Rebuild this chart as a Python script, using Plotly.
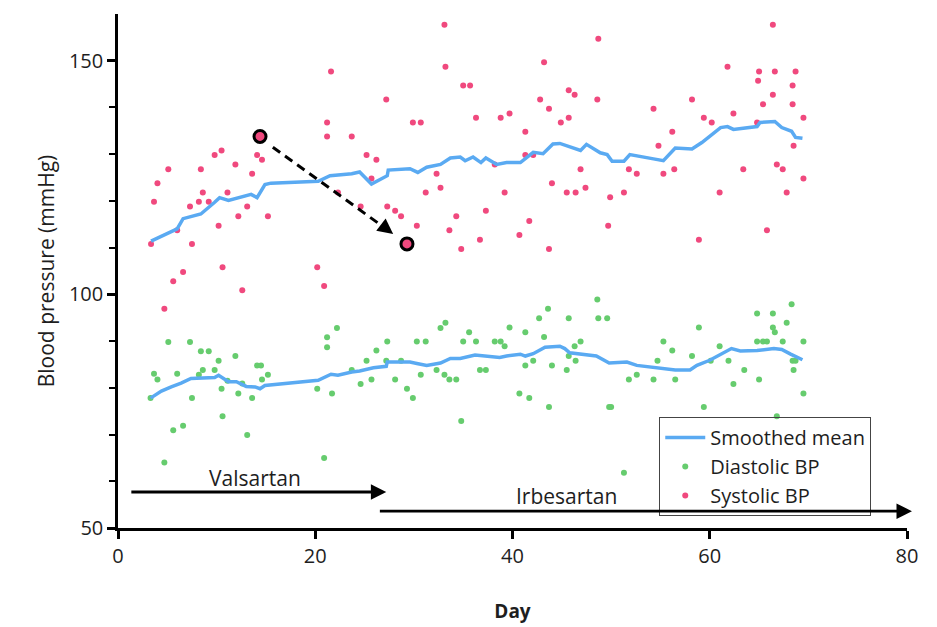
import plotly.graph_objects as go

# ---- data ----
sys_day = [21.6, 21.2, 21.2, 23.7, 25.2, 9.8, 10.5, 14.1, 14.6, 11.9, 5.1, 8.4, 13.6, 4.0, 8.6, 11.1, 22.3,
           3.65, 8.2, 9.2, 7.3, 13.1, 24.6, 12.2, 15.2, 10.2, 6.0, 3.35, 7.5, 10.6, 6.6, 5.6, 20.2, 20.9,
           12.6, 4.7, 33.1, 33.2, 48.7, 43.2, 35.0, 35.7, 27.2, 42.8, 45.7, 46.3, 48.6, 43.7, 29.9, 30.7,
           36.3, 38.8, 39.7, 44.9, 45.7, 41.3, 26.2, 41.3, 42.1, 38.2, 25.7, 32.3, 46.9, 32.7, 31.2, 39.2,
           44.0, 45.5, 46.4, 47.4, 49.9, 27.3, 28.1, 37.3, 28.7, 30.3, 29.3, 34.3, 33.6, 41.7, 36.7, 34.8,
           40.7, 43.7, 49.7, 66.4, 61.8, 65.0, 66.6, 68.7, 64.9, 68.4, 66.4, 58.2, 54.3, 65.4, 68.4, 62.4,
           59.4, 60.2, 69.5, 64.8, 56.2, 54.8, 68.5, 51.8, 52.6, 55.3, 56.4, 63.4, 66.8, 67.4, 69.5, 51.3,
           61.0, 67.8, 58.9, 65.8, 14.4]
sys_bp = [147.7, 136.8, 133.8, 133.8, 129.8, 129.8, 130.8, 129.8, 128.8, 127.8, 126.8, 126.8, 125.8, 123.8,
          121.8, 121.8, 121.8, 119.8, 119.8, 119.8, 118.8, 118.8, 118.8, 116.7, 116.7, 114.7, 113.7, 110.8,
          110.8, 105.8, 104.8, 102.8, 105.8, 101.8, 100.9, 96.9, 157.7, 148.7, 154.7, 149.7, 144.7, 144.7,
          141.7, 141.7, 143.7, 142.7, 141.7, 139.7, 136.8, 136.8, 137.8, 137.8, 138.7, 136.8, 137.8, 134.8,
          128.8, 129.8, 129.8, 127.8, 124.8, 125.8, 126.8, 122.8, 121.8, 121.8, 123.8, 121.8, 121.8, 122.8,
          120.8, 118.8, 117.9, 117.9, 116.7, 114.7, 110.8, 116.7, 113.7, 115.7, 111.7, 109.7, 112.7, 109.7,
          114.7, 157.7, 148.7, 147.7, 147.7, 147.7, 145.7, 144.7, 142.7, 141.7, 139.7, 140.7, 140.7, 138.7,
          137.8, 136.8, 137.8, 136.8, 134.8, 131.8, 131.8, 126.8, 125.8, 125.8, 126.8, 126.8, 127.8, 126.8,
          124.8, 121.8, 121.8, 121.8, 111.7, 113.7, 133.8]

dia_day = [5.1, 7.3, 8.4, 9.2, 22.2, 21.2, 21.2, 11.9, 10.2, 14.1, 14.5, 3.65, 4.0, 6.0, 8.6, 9.8, 8.2, 15.2,
           14.6, 23.7, 25.2, 24.6, 10.5, 12.2, 11.1, 12.6, 3.3, 7.5, 13.6, 20.2, 21.7, 10.6, 6.6, 5.6, 13.1,
           4.7, 20.9, 32.7, 33.2, 43.6, 48.6, 42.7, 45.7, 48.7, 49.6, 39.7, 35.6, 41.3, 43.2, 27.3, 30.3,
           31.2, 35.0, 36.3, 38.2, 38.8, 39.2, 46.3, 46.9, 26.2, 27.2, 28.7, 30.7, 32.3, 33.1, 33.6, 34.3,
           28.1, 25.7, 29.3, 29.9, 36.7, 37.3, 41.3, 42.1, 44.0, 45.5, 45.7, 46.4, 40.7, 41.7, 43.7, 34.8,
           49.8, 68.3, 64.8, 66.4, 58.9, 66.4, 66.6, 67.8, 55.3, 64.8, 65.4, 65.8, 67.4, 69.5, 56.2, 61.0,
           58.2, 54.7, 61.9, 60.1, 68.4, 68.7, 52.6, 51.8, 54.3, 56.5, 63.5, 68.5, 62.4, 65.0, 69.5, 50.0,
           59.4, 66.8, 51.3]
dia_bp = [89.8, 89.8, 87.8, 87.8, 92.8, 90.8, 88.7, 86.8, 85.8, 84.8, 84.8, 83.0, 81.8, 83.0, 83.8, 83.8, 82.8,
          82.8, 81.8, 83.8, 85.8, 80.8, 79.8, 78.8, 81.5, 80.9, 77.8, 77.8, 77.8, 79.8, 78.8, 73.9, 71.9, 70.9,
          69.9, 64.0, 65.0, 92.8, 93.9, 96.9, 98.9, 94.9, 94.9, 94.9, 94.9, 92.9, 91.9, 91.9, 90.9, 89.9, 89.9,
          89.9, 89.9, 89.9, 89.9, 89.9, 88.9, 88.9, 89.9, 88.0, 85.8, 85.8, 82.8, 83.8, 82.8, 81.8, 81.8, 81.8,
          81.8, 79.8, 77.8, 83.8, 83.8, 84.8, 85.8, 84.8, 83.8, 86.8, 85.8, 78.8, 77.8, 75.9, 72.9, 75.9, 97.9,
          95.9, 95.9, 92.9, 92.9, 91.9, 93.9, 89.9, 89.9, 89.9, 89.9, 89.9, 89.9, 88.0, 88.9, 86.8, 85.8, 85.8,
          85.8, 85.8, 85.8, 82.8, 81.8, 81.8, 81.8, 83.8, 83.8, 80.8, 81.8, 78.8, 75.9, 75.9, 73.9, 61.8]

sys_smooth_day = [3.35, 6.0, 6.6, 8.4, 9.8, 10.3, 11.2, 13.5, 14.1, 14.9, 15.5, 20.3, 21.5, 23.7, 24.5, 25.7,
                  27.3, 27.4, 29.6, 30.4, 31.3, 32.7, 33.7, 34.7, 35.2, 36.0, 36.8, 37.3, 38.4, 39.4, 40.8,
                  42.1, 43.1, 44.1, 44.8, 46.2, 46.9, 47.5, 48.9, 49.6, 50.1, 51.3, 51.9, 54.3, 55.3, 56.5,
                  58.2, 59.2, 61.1, 61.8, 62.4, 64.8, 65.1, 66.6, 67.3, 68.3, 68.7, 69.4]
sys_smooth_bp = [111.4, 114.0, 116.2, 117.2, 119.7, 120.7, 120.1, 121.4, 120.7, 123.5, 123.8, 124.2, 125.4,
                 125.8, 126.2, 123.6, 125.4, 126.6, 126.9, 126.1, 127.2, 127.8, 129.2, 129.4, 128.6, 129.4,
                 128.2, 129.2, 127.8, 128.2, 128.2, 130.4, 130.1, 132.2, 132.3, 131.2, 130.8, 132.1, 130.3,
                 129.9, 128.5, 128.5, 129.9, 129.0, 128.6, 131.3, 131.1, 132.5, 135.7, 135.9, 135.3, 135.9,
                 136.8, 137.0, 135.7, 134.9, 133.6, 133.4]

dia_smooth_day = [3.3, 4.4, 5.4, 6.4, 7.4, 9.8, 10.2, 11.2, 12.0, 13.0, 13.9, 14.4, 14.9, 20.3, 21.6, 22.3,
                  23.7, 24.5, 25.9, 27.2, 27.3, 29.6, 30.3, 31.3, 32.7, 33.7, 34.7, 36.2, 38.7, 39.4, 40.8,
                  41.3, 42.1, 43.3, 44.8, 45.3, 45.8, 48.5, 49.8, 51.6, 52.6, 54.3, 56.5, 58.0, 58.7, 60.0,
                  62.2, 63.1, 64.8, 66.5, 67.3, 68.2, 69.4]
dia_smooth_bp = [77.8, 79.3, 80.2, 81.0, 82.0, 82.2, 82.7, 81.3, 81.3, 80.3, 80.2, 79.8, 80.5, 81.6, 82.9,
                 82.7, 83.4, 83.6, 84.3, 84.6, 85.5, 85.5, 85.2, 84.8, 85.3, 86.3, 86.3, 87.0, 86.5, 86.8,
                 87.2, 86.8, 87.3, 88.7, 88.9, 88.4, 87.5, 86.8, 85.3, 85.5, 84.8, 84.3, 83.8, 83.8, 84.8,
                 85.9, 88.4, 87.9, 88.0, 88.4, 88.2, 87.2, 86.0]

highlight_day = [14.4, 29.3]
highlight_bp = [133.8, 110.8]

treatments = ["Valsartan", "Irbesartan"]
treat_start = [1.2, 26.4]
treat_end = [27.2, 80.5]

x_ticks = [0, 20, 40, 60, 80]
y_ticks = [50, 100, 150]

PINK = "#F0497E"
GREEN = "#66CC6E"
BLUE = "#5AAAF2"
TXT = "#1e1e1e"
FONT = "'Open Sans', sans-serif"

fig = go.Figure()

fig.add_trace(go.Scatter(x=dia_day, y=dia_bp, mode="markers", name="Diastolic BP",
                         marker=dict(color=GREEN, size=6), legendrank=2))
fig.add_trace(go.Scatter(x=sys_day, y=sys_bp, mode="markers", name="Systolic BP",
                         marker=dict(color=PINK, size=6), legendrank=3))
fig.add_trace(go.Scatter(x=sys_smooth_day, y=sys_smooth_bp, mode="lines", name="Smoothed mean",
                         line=dict(color=BLUE, width=3.5), legendrank=1))
fig.add_trace(go.Scatter(x=dia_smooth_day, y=dia_smooth_bp, mode="lines", name="Smoothed mean",
                         line=dict(color=BLUE, width=3.5), showlegend=False))

# dashed arrow between the highlighted points
fig.add_trace(go.Scatter(x=[15.7, 27.2], y=[131.5, 114.0], mode="lines", showlegend=False,
                         line=dict(color="black", width=3, dash="9px,6px"), hoverinfo="skip"))
fig.add_annotation(x=27.9, y=112.9, ax=26.6, ay=115.0, xref="x", yref="y", axref="x", ayref="y",
                   text="", showarrow=True, arrowhead=2, arrowsize=1.1, arrowwidth=2.8, arrowcolor="black")

fig.add_trace(go.Scatter(x=highlight_day, y=highlight_bp, mode="markers", showlegend=False,
                         marker=dict(color=PINK, size=12, line=dict(color="black", width=3))))

# treatment arrows
arrow_y = [57.7, 53.6]
label_y = [60.6, 56.9]
label_x = [13.9, 45.5]
for name, s, e, ay_, lx, ly in zip(treatments, treat_start, treat_end, arrow_y, label_x, label_y):
    fig.add_annotation(x=e, y=ay_, ax=s, ay=ay_, xref="x", yref="y", axref="x", ayref="y",
                       text="", showarrow=True, arrowhead=2, arrowsize=1.1, arrowwidth=2.8,
                       arrowcolor="black")
    fig.add_annotation(x=lx, y=ly, xref="x", yref="y",
                       text=name, showarrow=False, font=dict(size=21, color=TXT, family=FONT))

fig.update_layout(
    width=937, height=627,
    margin=dict(l=110, r=38, t=6, b=107),
    paper_bgcolor="white", plot_bgcolor="white",
    font=dict(family=FONT, size=20, color=TXT),
    showlegend=True,
    legend=dict(x=0.686, y=0.216, xanchor="left", yanchor="top",
                bordercolor="#444", borderwidth=1, bgcolor="rgba(255,255,255,0)",
                font=dict(size=20, family=FONT, color=TXT),
                tracegroupgap=0, itemwidth=40),
)
fig.update_xaxes(range=[0, 80], tickvals=x_ticks, showline=True, linecolor="black", linewidth=2.5,
                 ticks="outside", ticklen=8, tickwidth=2.5, tickcolor="black", showgrid=False,
                 zeroline=False, tickfont=dict(size=20, family=FONT, color=TXT),
                 title=dict(text="<b>Day</b>", standoff=37, font=dict(size=19, family=FONT, color=TXT)))
fig.update_yaxes(range=[50, 160], tickvals=y_ticks, showline=True, linecolor="black", linewidth=2.5,
                 ticks="outside", ticklen=8, tickwidth=2.5, tickcolor="black", showgrid=False,
                 zeroline=False, tickfont=dict(size=20, family=FONT, color=TXT),
                 minor=dict(tickvals=[60, 70, 80, 90, 110, 120, 130, 140], ticks="outside", ticklen=6,
                            tickwidth=2, tickcolor="black", showgrid=False),
                 title=dict(text="Blood pressure (mmHg)", standoff=9,
                            font=dict(size=21, family=FONT, color=TXT)))

fig.write_html("out.html")
